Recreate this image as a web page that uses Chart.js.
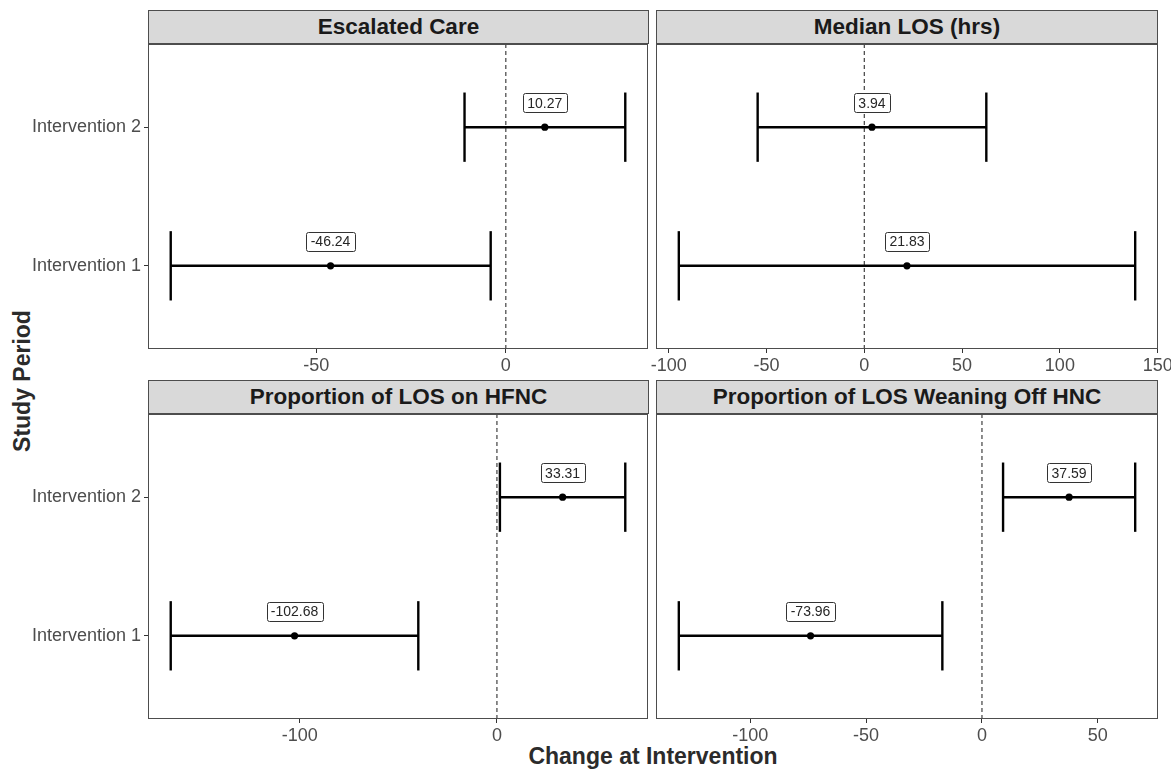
<!DOCTYPE html>
<html>
<head>
<meta charset="utf-8">
<script src="https://cdn.jsdelivr.net/npm/chart.js@4.4.1/dist/chart.umd.min.js"></script>
<style>
  body { margin: 0; background: #fff; font-family: "Liberation Sans", Arial, sans-serif; }
  #page { position: relative; width: 1171px; height: 769px; overflow: hidden; }
  .panel { position: absolute; }
  .strip { position: absolute; box-sizing: border-box; height: 34px; background: #d9d9d9; border: 1px solid #4d4d4d;
           text-align: center; font-weight: bold; font-size: 22.5px; line-height: 32px; color: #1a1a1a; white-space: nowrap; }
  .axis-title { position: absolute; font-weight: bold; font-size: 23px; color: #2b2b2b; white-space: nowrap;
                transform: translate(-50%, -50%); }
</style>
</head>
<body>
<div id="page">
  <div class="axis-title" style="left:653px;top:756px">Change at Intervention</div>
  <div class="axis-title" style="left:22px;top:381px;transform:translate(-50%,-50%) rotate(-90deg)">Study Period</div>
</div>
<script>
// facets and rows
var panels = ['Escalated Care', 'Median LOS (hrs)', 'Proportion of LOS on HFNC', 'Proportion of LOS Weaning Off HNC'];
var periods = ['Intervention 1', 'Intervention 2'];

// change at intervention, one pair per facet (Intervention 1, Intervention 2)
var estimates = [[-46.24, 10.27], [21.83, 3.94], [-102.68, 33.31], [-73.96, 37.59]];
var lowerCI = [[-88.4, -10.9], [-94.8, -54.5], [-165.5, 1.5], [-130.8, 9.1]];
var upperCI = [[-4.0, 31.5], [138.5, 62.4], [-39.9, 65.1], [-17.1, 66.1]];

// tick step on each facet's x axis
var tickSteps = [50, 50, 100, 50];
var refLine = 0;

var FONT = '"Liberation Sans", Arial, sans-serif';
var capHalf = 0.25;     // errorbar width 0.5
var labelNudge = 0.175;
var yMin = 0.4, yMax = 2.6;

// where each facet sits on the page
var layout = [
  { left: 0,   top: 40,  width: 652, padL: 0, padR: 3,  yAxis: true,  stripLeft: 148, stripTop: 10 },
  { left: 650, top: 40,  width: 521, padL: 6, padR: 13, yAxis: false, stripLeft: 656, stripTop: 10 },
  { left: 0,   top: 410, width: 652, padL: 0, padR: 3,  yAxis: true,  stripLeft: 148, stripTop: 380 },
  { left: 650, top: 410, width: 521, padL: 6, padR: 13, yAxis: false, stripLeft: 656, stripTop: 380 }
];

var panelDecor = {
  id: 'panelDecor',
  afterDatasetsDraw: function(chart) {
    var idx = chart.options.plugins.panelDecor.idx;
    var ctx = chart.ctx, x = chart.scales.x, y = chart.scales.y, a = chart.chartArea;
    ctx.save();
    ctx.font = '14px ' + FONT;
    estimates[idx].forEach(function(v, j) {
      var px = x.getPixelForValue(v), py = y.getPixelForValue(j + 1 + labelNudge);
      var txt = v.toFixed(2);
      var w = Math.round(ctx.measureText(txt).width + 9), h = 19;
      ctx.beginPath();
      ctx.roundRect(Math.round(px - w / 2) + 0.5, Math.round(py - h / 2) + 0.5, w, h, 2);
      ctx.fillStyle = '#fff';
      ctx.fill();
      ctx.strokeStyle = '#333';
      ctx.lineWidth = 1;
      ctx.stroke();
      ctx.fillStyle = '#262626';
      ctx.textAlign = 'center';
      ctx.textBaseline = 'middle';
      ctx.fillText(txt, px, py + 1);
    });
    // panel border
    ctx.strokeStyle = '#4d4d4d';
    ctx.lineWidth = 1;
    ctx.strokeRect(a.left + 0.5, a.top + 0.5, a.width - 1, a.height - 1);
    ctx.restore();
  }
};

var page = document.getElementById('page');

panels.forEach(function(name, i) {
  var L = layout[i];
  var est = estimates[i], lo = lowerCI[i], hi = upperCI[i], step = tickSteps[i];
  var xmin = Math.min.apply(null, lo), xmax = Math.max.apply(null, hi);
  var pad = 0.05 * (xmax - xmin);

  var strip = document.createElement('div');
  strip.className = 'strip';
  strip.textContent = name;
  strip.style.left = L.stripLeft + 'px';
  strip.style.top = L.stripTop + 'px';
  strip.style.width = (L.width - L.padR - L.stripLeft + L.left) + 'px';
  page.appendChild(strip);

  var canvas = document.createElement('canvas');
  canvas.className = 'panel';
  canvas.width = L.width;
  canvas.height = 340;
  canvas.style.left = L.left + 'px';
  canvas.style.top = L.top + 'px';
  page.appendChild(canvas);

  var datasets = [];
  datasets.push({
    data: [{ x: refLine, y: yMin }, { x: refLine, y: yMax }],
    showLine: true, borderColor: '#1a1a1a', borderWidth: 1, borderDash: [4, 3], pointRadius: 0
  });
  periods.forEach(function(p, j) {
    var yv = j + 1;
    datasets.push({
      data: [{ x: lo[j], y: yv }, { x: hi[j], y: yv }],
      showLine: true, borderColor: '#000', borderWidth: 2.4, pointRadius: 0
    });
    [lo[j], hi[j]].forEach(function(v) {
      datasets.push({
        data: [{ x: v, y: yv - capHalf }, { x: v, y: yv + capHalf }],
        showLine: true, borderColor: '#000', borderWidth: 2.4, pointRadius: 0
      });
    });
  });
  datasets.push({
    data: est.map(function(v, j) { return { x: v, y: j + 1 }; }),
    showLine: false, pointRadius: 3.6, pointBackgroundColor: '#000', pointBorderWidth: 0
  });

  new Chart(canvas.getContext('2d'), {
    type: 'scatter',
    data: { datasets: datasets },
    plugins: [panelDecor],
    options: {
      responsive: false,
      animation: false,
      events: [],
      layout: { padding: { top: 3, bottom: 0, left: L.padL, right: L.padR } },
      plugins: { legend: { display: false }, tooltip: { enabled: false }, panelDecor: { idx: i } },
      scales: {
        x: {
          type: 'linear',
          min: xmin - pad,
          max: xmax + pad,
          afterBuildTicks: function(s) {
            var t = [];
            for (var v = Math.ceil(s.min / step) * step; v <= s.max + 1e-9; v += step) t.push({ value: v });
            s.ticks = t;
          },
          afterFit: function(s) { s.height = 31; s.paddingLeft = 0; s.paddingRight = 0; },
          ticks: {
            font: { size: 18, family: FONT }, color: '#4d4d4d', padding: 2,
            maxRotation: 0, autoSkip: false,
            callback: function(v) { return String(v === 0 ? 0 : v); }
          },
          grid: { drawOnChartArea: false, drawTicks: true, tickLength: 4, color: '#333', lineWidth: 1 },
          border: { display: false }
        },
        y: {
          type: 'linear',
          display: L.yAxis,
          min: yMin,
          max: yMax,
          afterBuildTicks: function(s) {
            s.ticks = periods.map(function(p, j) { return { value: j + 1 }; });
          },
          afterFit: function(s) { s.width = L.yAxis ? 148 : 0; s.paddingTop = 0; s.paddingBottom = 0; },
          ticks: {
            font: { size: 18, family: FONT }, color: '#4d4d4d', padding: 3, autoSkip: false,
            callback: function(v) { return periods[v - 1]; }
          },
          grid: { drawOnChartArea: false, drawTicks: true, tickLength: 4, color: '#333', lineWidth: 1 },
          border: { display: false }
        }
      }
    }
  });
});
</script>
</body>
</html>
